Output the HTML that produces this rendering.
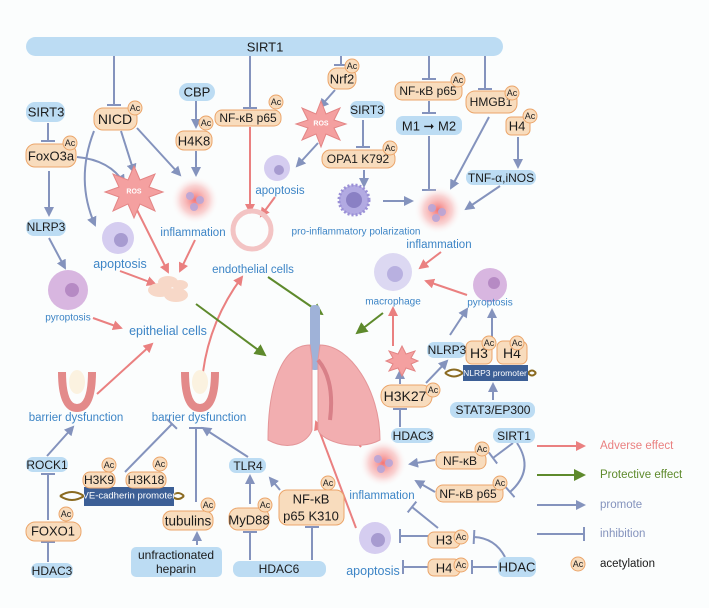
<!DOCTYPE html>
<html><head><meta charset="utf-8"><style>
html,body{margin:0;padding:0;background:#fbfdfd}
svg{display:block;font-family:"Liberation Sans",Arial,sans-serif}
.b{fill:#bcdcf3}
.o{fill:#f8dcbd;stroke:#eba56a;stroke-width:1}
.t{font-size:13px;fill:#1a1a1a;text-anchor:middle;dominant-baseline:central}
.l{font-size:11.5px;fill:#3d85c6;text-anchor:middle;dominant-baseline:central}
.pa{stroke:#8493bd;stroke-width:2;fill:none}
.ra{stroke:#ea8080;stroke-width:2;fill:none}
.ga{stroke:#5e8a2c;stroke-width:2;fill:none}
.ac{fill:#f8dcbd;stroke:#eba56a;stroke-width:1}
.act{font-size:9px;fill:#222;text-anchor:middle;dominant-baseline:central}
</style></head><body>
<svg width="709" height="608" viewBox="0 0 709 608" xmlns="http://www.w3.org/2000/svg">
<defs>
<marker id="pa" markerWidth="10" markerHeight="10" refX="8" refY="5" orient="auto" markerUnits="userSpaceOnUse"><path d="M0,0 L10,5 L0,10 z" fill="#8493bd"/></marker>
<marker id="ra" markerWidth="10" markerHeight="10" refX="8" refY="5" orient="auto" markerUnits="userSpaceOnUse"><path d="M0,0 L10,5 L0,10 z" fill="#ea8080"/></marker>
<marker id="ga" markerWidth="12" markerHeight="12" refX="10" refY="6" orient="auto" markerUnits="userSpaceOnUse"><path d="M0,0 L12,6 L0,12 z" fill="#5e8a2c"/></marker>
<marker id="tb" markerWidth="4" markerHeight="14" refX="2" refY="7" orient="auto" markerUnits="userSpaceOnUse"><path d="M2,0 L2,14" stroke="#8493bd" stroke-width="2"/></marker>
<radialGradient id="glow"><stop offset="0" stop-color="#f25c5c" stop-opacity="0.85"/><stop offset="0.6" stop-color="#f7a0a0" stop-opacity="0.45"/><stop offset="1" stop-color="#fff" stop-opacity="0"/></radialGradient>
</defs>

<!-- SIRT1 bar -->
<rect x="26" y="37" width="477" height="19" rx="9.5" class="b"/>
<text x="265" y="47" class="t">SIRT1</text>

<!-- connectors top -->
<line class="pa" x1="114" y1="56" x2="114" y2="105" marker-end="url(#tb)"/>
<line class="pa" x1="250" y1="56" x2="250" y2="108" marker-end="url(#tb)"/>
<line class="pa" x1="341" y1="56" x2="341" y2="65" marker-end="url(#tb)"/>
<line class="pa" x1="429" y1="56" x2="429" y2="79" marker-end="url(#tb)"/>
<line class="pa" x1="485" y1="56" x2="485" y2="89" marker-end="url(#tb)"/>
<line class="pa" x1="48" y1="123" x2="48" y2="141" marker-end="url(#tb)"/>
<line class="pa" x1="49" y1="171" x2="49" y2="215" marker-end="url(#pa)"/>
<path class="pa" d="M77,157 Q110,160 124,183" marker-end="url(#pa)"/>
<path class="pa" d="M94,131 Q75,180 95,225" marker-end="url(#pa)"/>
<line class="pa" x1="121" y1="131" x2="134" y2="172" marker-end="url(#pa)"/>
<line class="pa" x1="137" y1="128" x2="180" y2="175" marker-end="url(#pa)"/>
<line class="pa" x1="196" y1="101" x2="196" y2="127" marker-end="url(#pa)"/>
<line class="pa" x1="196" y1="151" x2="196" y2="175" marker-end="url(#pa)"/>
<line class="pa" x1="49" y1="238" x2="65" y2="268" marker-end="url(#pa)"/>
<line class="pa" x1="335" y1="90" x2="320" y2="107" marker-end="url(#pa)"/>
<line class="pa" x1="318" y1="143" x2="297" y2="166" marker-end="url(#pa)"/>
<line class="pa" x1="363" y1="120" x2="363" y2="147" marker-end="url(#tb)"/>
<line class="pa" x1="364" y1="170" x2="364" y2="186" marker-end="url(#pa)"/>
<line class="pa" x1="383" y1="201" x2="412" y2="201" marker-end="url(#pa)"/>
<line class="pa" x1="429" y1="101" x2="429" y2="113" marker-end="url(#tb)"/>
<line class="pa" x1="429" y1="136" x2="429" y2="190" marker-end="url(#tb)"/>
<line class="pa" x1="489" y1="117" x2="451" y2="188" marker-end="url(#pa)"/>
<line class="pa" x1="518" y1="137" x2="518" y2="167" marker-end="url(#pa)"/>
<line class="pa" x1="500" y1="186" x2="466" y2="209" marker-end="url(#pa)"/>

<!-- red arrows -->
<line class="ra" x1="137" y1="210" x2="168" y2="272" marker-end="url(#ra)"/>
<line class="ra" x1="195" y1="240" x2="180" y2="271" marker-end="url(#ra)"/>
<line class="ra" x1="120" y1="271" x2="155" y2="284" marker-end="url(#ra)"/>
<line class="ra" x1="250" y1="127" x2="250" y2="212" marker-end="url(#ra)"/>
<line class="ra" x1="275" y1="197" x2="261" y2="216" marker-end="url(#ra)"/>
<line class="ra" x1="93" y1="318" x2="121" y2="328" marker-end="url(#ra)"/>
<line class="ra" x1="97" y1="394" x2="152" y2="344" marker-end="url(#ra)"/>
<path class="ra" d="M203,372 Q210,320 242,277" marker-end="url(#ra)"/>
<line class="ra" x1="441" y1="252" x2="420" y2="268" marker-end="url(#ra)"/>
<line class="ra" x1="467" y1="295" x2="426" y2="281" marker-end="url(#ra)"/>
<line class="ra" x1="393" y1="346" x2="393" y2="308" marker-end="url(#ra)"/>
<line class="ra" x1="361" y1="447" x2="337" y2="418" marker-end="url(#ra)"/>
<line class="ra" x1="356" y1="528" x2="316" y2="422" marker-end="url(#ra)"/>

<!-- green -->
<line class="ga" x1="196" y1="304" x2="265" y2="355" marker-end="url(#ga)"/>
<line class="ga" x1="268" y1="277" x2="322" y2="314" marker-end="url(#ga)"/>
<line class="ga" x1="383" y1="313" x2="357" y2="333" marker-end="url(#ga)"/>

<!-- lower left connectors -->
<line class="pa" x1="47" y1="456" x2="73" y2="427" marker-end="url(#pa)"/>
<line class="pa" x1="48" y1="520" x2="48" y2="474" marker-end="url(#tb)"/>
<line class="pa" x1="48" y1="562" x2="48" y2="542" marker-end="url(#tb)"/>
<line class="pa" x1="125" y1="472" x2="172" y2="424" marker-end="url(#tb)"/>
<line class="pa" x1="196" y1="502" x2="196" y2="428" marker-end="url(#tb)"/>
<line class="pa" x1="197" y1="545" x2="197" y2="533" marker-end="url(#pa)"/>
<line class="pa" x1="248" y1="457" x2="203" y2="428" marker-end="url(#pa)"/>
<line class="pa" x1="250" y1="504" x2="250" y2="476" marker-end="url(#pa)"/>
<line class="pa" x1="280" y1="490" x2="270" y2="478" marker-end="url(#pa)"/>
<line class="pa" x1="250" y1="560" x2="250" y2="532" marker-end="url(#tb)"/>
<line class="pa" x1="312" y1="560" x2="312" y2="527" marker-end="url(#tb)"/>

<!-- lower right connectors -->
<line class="pa" x1="400" y1="384" x2="400" y2="371" marker-end="url(#pa)"/>
<line class="pa" x1="426" y1="383" x2="447" y2="361" marker-end="url(#pa)"/>
<line class="pa" x1="450" y1="335" x2="467" y2="309" marker-end="url(#pa)"/>
<line class="pa" x1="492" y1="337" x2="492" y2="310" marker-end="url(#pa)"/>
<line class="pa" x1="493" y1="400" x2="493" y2="384" marker-end="url(#pa)"/>
<line class="pa" x1="400" y1="427" x2="400" y2="409" marker-end="url(#tb)"/>
<line class="pa" x1="513" y1="443" x2="493" y2="458" marker-end="url(#tb)"/>
<path class="pa" d="M517,443 Q535,470 510,492" marker-end="url(#tb)"/>
<line class="pa" x1="435" y1="460" x2="410" y2="464" marker-end="url(#pa)"/>
<line class="pa" x1="435" y1="492" x2="416" y2="481" marker-end="url(#pa)"/>
<line class="pa" x1="438" y1="528" x2="412" y2="507" marker-end="url(#tb)"/>
<line class="pa" x1="428" y1="536" x2="400" y2="536" marker-end="url(#tb)"/>
<line class="pa" x1="428" y1="567" x2="403" y2="567" marker-end="url(#tb)"/>
<line class="pa" x1="497" y1="567" x2="472" y2="567" marker-end="url(#tb)"/>
<path class="pa" d="M505,557 Q495,538 474,537" marker-end="url(#tb)"/>

<!-- legend -->
<line class="ra" x1="537" y1="446" x2="584" y2="446" marker-end="url(#ra)"/>
<text x="600" y="446" style="font-size:11.5px;fill:#ea8080;dominant-baseline:central">Adverse effect</text>
<line class="ga" x1="537" y1="475" x2="584" y2="475" marker-end="url(#ga)"/>
<text x="600" y="475" style="font-size:11.5px;fill:#5e8a2c;dominant-baseline:central">Protective effect</text>
<line class="pa" x1="537" y1="505" x2="584" y2="505" marker-end="url(#pa)"/>
<text x="600" y="505" style="font-size:11.5px;fill:#8493bd;dominant-baseline:central">promote</text>
<line class="pa" x1="537" y1="534" x2="584" y2="534" marker-end="url(#tb)"/>
<text x="600" y="534" style="font-size:11.5px;fill:#8493bd;dominant-baseline:central">inhibition</text>
<circle cx="578" cy="564" r="7" class="ac"/><text x="578" y="564" class="act">Ac</text>
<text x="600" y="564" style="font-size:11.5px;fill:#1a1a1a;dominant-baseline:central">acetylation</text>

<!-- glows & cells -->
<circle cx="195" cy="200" r="24" fill="url(#glow)"/>
<circle cx="438" cy="210" r="24" fill="url(#glow)"/>
<circle cx="383" cy="463" r="24" fill="url(#glow)"/>
<g fill="#b9a6d8" opacity="0.9"><circle cx="190" cy="196" r="4"/><circle cx="200" cy="200" r="4"/><circle cx="194" cy="207" r="4"/><circle cx="432" cy="208" r="4"/><circle cx="442" cy="212" r="4"/><circle cx="436" cy="218" r="4"/><circle cx="378" cy="459" r="4"/><circle cx="389" cy="463" r="4"/><circle cx="381" cy="469" r="4"/></g>
<circle cx="118" cy="238" r="16" fill="#d5cdf0"/><circle cx="121" cy="240" r="7" fill="#a79bd0"/>
<circle cx="277" cy="168" r="13" fill="#d5cdf0"/><circle cx="279" cy="170" r="5" fill="#a79bd0"/>
<circle cx="375" cy="538" r="16" fill="#d5cdf0"/><circle cx="378" cy="540" r="7" fill="#a79bd0"/>
<circle cx="354" cy="200" r="15" fill="#b2aae2" stroke="#9a90d6" stroke-width="3" stroke-dasharray="2 2"/><circle cx="354" cy="200" r="8" fill="#8a80c4"/>
<circle cx="393" cy="272" r="19" fill="#dcd8f2"/><circle cx="395" cy="274" r="8" fill="#b8b0e0"/>
<circle cx="490" cy="285" r="17" fill="#d8b6e0"/><circle cx="494" cy="283" r="6" fill="#b68ac4"/>
<circle cx="68" cy="290" r="20" fill="#d8b6e0"/><circle cx="72" cy="290" r="7" fill="#b68ac4"/>
<g fill="#f7d8c8"><ellipse cx="160" cy="290" rx="12" ry="7"/><ellipse cx="176" cy="295" rx="12" ry="7"/><ellipse cx="168" cy="282" rx="10" ry="6"/><ellipse cx="180" cy="285" rx="8" ry="5"/></g>
<circle cx="252" cy="230" r="19" fill="none" stroke="#f3c4c4" stroke-width="5"/>
<!-- barrier icons -->
<path d="M62,372 Q62,408 77,408 Q92,408 92,372" fill="none" stroke="#e38a8a" stroke-width="8"/>
<path d="M185,372 Q185,408 200,408 Q215,408 215,372" fill="none" stroke="#e38a8a" stroke-width="8"/>
<ellipse cx="77" cy="382" rx="8" ry="12" fill="#fbf2e0"/><ellipse cx="200" cy="382" rx="8" ry="12" fill="#fbf2e0"/>
<!-- ROS stars -->
<polygon points="134,166 140,180 155,174 149,187 163,192 149,197 155,211 140,204 134,218 128,204 113,211 119,197 105,192 119,187 113,174 128,180" fill="#f4a0a0" stroke="#e38585"/>
<text x="134" y="192" style="font-size:7px;fill:#fff;text-anchor:middle;dominant-baseline:central;font-weight:bold">ROS</text>
<polygon points="321,101 326,114 340,108 334,120 346,124 334,128 340,140 326,134 321,147 316,134 302,140 308,128 296,124 308,120 302,108 316,114" fill="#f4a0a0" stroke="#e38585"/>
<text x="321" y="124" style="font-size:7px;fill:#fff;text-anchor:middle;dominant-baseline:central;font-weight:bold">ROS</text>
<polygon points="402,346 406,354 415,351 411,358 418,361 411,364 415,371 406,368 402,376 398,368 389,371 393,364 386,361 393,358 389,351 398,354" fill="#f4a0a0" stroke="#e38585"/>
<!-- lungs -->
<rect x="310" y="305" width="10" height="65" rx="4" fill="#9fb2d8"/>
<path d="M310,345 C280,345 268,390 268,440 C290,452 308,442 312,430 L312,360 Z" fill="#f2aeb0" stroke="#e49598"/>
<path d="M320,345 C350,345 380,390 380,440 C358,452 322,442 318,430 L318,360 Z" fill="#f2aeb0" stroke="#e49598"/>
<path d="M318,360 Q335,380 330,420" fill="none" stroke="#d88088" stroke-width="4"/>

<!-- labels -->
<text x="193" y="233" class="l">inflammation</text>
<text x="120" y="264" class="l" style="font-size:12.5px">apoptosis</text>
<text x="280" y="191" class="l">apoptosis</text>
<text x="253" y="270" class="l">endothelial cells</text>
<text x="356" y="232" class="l" style="font-size:10px">pro-inflammatory polarization</text>
<text x="439" y="245" class="l">inflammation</text>
<text x="393" y="302" class="l" style="font-size:10px">macrophage</text>
<text x="490" y="303" class="l" style="font-size:10px">pyroptosis</text>
<text x="68" y="318" class="l" style="font-size:10px">pyroptosis</text>
<text x="168" y="331" class="l" style="font-size:12.5px">epithelial cells</text>
<text x="76" y="418" class="l">barrier dysfunction</text>
<text x="199" y="418" class="l">barrier dysfunction</text>
<text x="382" y="496" class="l">inflammation</text>
<text x="373" y="571" class="l" style="font-size:12.5px">apoptosis</text>

<!-- DNA -->
<path d="M60,496 Q72,488 84,496 T108,496 M60,496 Q72,504 84,496 T108,496" stroke="#8a6a20" stroke-width="2" fill="none"/>
<path d="M172,496 Q178,490 184,496 M172,496 Q178,502 184,496" stroke="#8a6a20" stroke-width="2" fill="none"/>
<rect x="84" y="487" width="90" height="19" fill="#3c5f96"/>
<text x="129" y="496" style="font-size:9.5px;fill:#fff;text-anchor:middle;dominant-baseline:central">VE-cadherin promoter</text>
<path d="M445,373 Q454,366 463,373 M445,373 Q454,380 463,373 M528,373 Q532,368 536,373 M528,373 Q532,378 536,373" stroke="#8a6a20" stroke-width="2" fill="none"/>
<rect x="463" y="365" width="65" height="16" fill="#3c5f96"/>
<text x="495" y="373" style="font-size:8.5px;fill:#fff;text-anchor:middle;dominant-baseline:central">NLRP3 promoter</text>

<!-- blue boxes -->
<rect x="26" y="102" width="39" height="20" rx="9" class="b"/><text x="46" y="112" class="t">SIRT3</text>
<rect x="179" y="83" width="36" height="18" rx="9" class="b"/><text x="197" y="92" class="t">CBP</text>
<rect x="350" y="101" width="35" height="17" rx="7" class="b"/><text x="367" y="110" class="t" style="font-size:12px">SIRT3</text>
<rect x="396" y="116" width="66" height="19" rx="7" class="b"/><text x="429" y="126" class="t">M1 ➞ M2</text>
<rect x="466" y="170" width="70" height="15" rx="7" class="b"/><text x="501" y="178" class="t" style="font-size:12px">TNF-α,iNOS</text>
<rect x="26" y="219" width="40" height="17" rx="8" class="b"/><text x="46" y="227" class="t" style="font-size:12px">NLRP3</text>
<rect x="26" y="457" width="42" height="15" rx="7" class="b"/><text x="47" y="465" class="t" style="font-size:12px">ROCK1</text>
<rect x="31" y="563" width="42" height="15" rx="7" class="b"/><text x="52" y="571" class="t" style="font-size:12px">HDAC3</text>
<rect x="131" y="547" width="91" height="30" rx="5" class="b"/><text x="176" y="555" class="t" style="font-size:12px">unfractionated</text><text x="176" y="569" class="t" style="font-size:12px">heparin</text>
<rect x="229" y="458" width="37" height="15" rx="7" class="b"/><text x="248" y="466" class="t" style="font-size:12px">TLR4</text>
<rect x="233" y="561" width="93" height="16" rx="7" class="b"/><text x="279" y="569" class="t" style="font-size:12px">HDAC6</text>
<rect x="427" y="342" width="39" height="16" rx="7" class="b"/><text x="447" y="350" class="t" style="font-size:12px">NLRP3</text>
<rect x="450" y="402" width="85" height="16" rx="7" class="b"/><text x="493" y="410" class="t" style="font-size:12px">STAT3/EP300</text>
<rect x="391" y="428" width="43" height="15" rx="7" class="b"/><text x="413" y="436" class="t" style="font-size:12px">HDAC3</text>
<rect x="493" y="428" width="42" height="15" rx="7" class="b"/><text x="514" y="436" class="t" style="font-size:12px">SIRT1</text>
<rect x="498" y="557" width="38" height="20" rx="7" class="b"/><text x="517" y="567" class="t">HDAC</text>

<!-- orange boxes -->
<rect x="26" y="144" width="50" height="23" rx="9" class="o"/><text x="51" y="156" class="t">FoxO3a</text>
<rect x="94" y="108" width="43" height="22" rx="9" class="o"/><text x="115" y="119" class="t" style="font-size:14px">NICD</text>
<rect x="176" y="131" width="36" height="19" rx="8" class="o"/><text x="194" y="141" class="t">H4K8</text>
<rect x="215" y="110" width="66" height="16" rx="7" class="o"/><text x="248" y="118" class="t" style="font-size:12px">NF-κB p65</text>
<rect x="328" y="68" width="28" height="21" rx="9" class="o"/><text x="342" y="79" class="t">Nrf2</text>
<rect x="322" y="150" width="73" height="18" rx="8" class="o"/><text x="358" y="159" class="t" style="font-size:12px">OPA1 K792</text>
<rect x="395" y="82" width="67" height="18" rx="7" class="o"/><text x="428" y="91" class="t" style="font-size:12px">NF-κB p65</text>
<rect x="466" y="91" width="51" height="22" rx="9" class="o"/><text x="491" y="102" class="t" style="font-size:12px">HMGB1</text>
<rect x="506" y="117" width="24" height="18" rx="5" class="o"/><text x="517" y="126" class="t">H4</text>
<rect x="26" y="522" width="55" height="19" rx="9" class="o"/><text x="53" y="531" class="t">FOXO1</text>
<rect x="83" y="472" width="32" height="16" rx="7" class="o"/><text x="99" y="480" class="t" style="font-size:12px">H3K9</text>
<rect x="126" y="472" width="40" height="16" rx="7" class="o"/><text x="146" y="480" class="t" style="font-size:12px">H3K18</text>
<rect x="163" y="511" width="50" height="19" rx="8" class="o"/><text x="188" y="521" class="t" style="font-size:13.5px">tubulins</text>
<rect x="229" y="508" width="40" height="22" rx="9" class="o"/><text x="249" y="520" class="t">MyD88</text>
<rect x="279" y="490" width="65" height="35" rx="8" class="o"/><text x="311" y="499" class="t">NF-κB</text><text x="311" y="516" class="t">p65 K310</text>
<rect x="381" y="385" width="51" height="22" rx="10" class="o"/><text x="405" y="396" class="t" style="font-size:14px">H3K27</text>
<rect x="466" y="341" width="26" height="23" rx="6" class="o"/><text x="479" y="353" class="t" style="font-size:14px">H3</text>
<rect x="497" y="341" width="30" height="23" rx="6" class="o"/><text x="512" y="353" class="t" style="font-size:14px">H4</text>
<rect x="436" y="452" width="50" height="17" rx="7" class="o"/><text x="460" y="461" class="t" style="font-size:12px">NF-κB</text>
<rect x="436" y="485" width="67" height="17" rx="7" class="o"/><text x="468" y="494" class="t" style="font-size:12px">NF-κB p65</text>
<rect x="428" y="532" width="32" height="16" rx="6" class="o"/><text x="444" y="540" class="t">H3</text>
<rect x="428" y="559" width="32" height="17" rx="6" class="o"/><text x="444" y="568" class="t">H4</text>

<!-- Ac badges -->
<g>
<circle cx="70" cy="143" r="7" class="ac"/><text x="70" y="143" class="act">Ac</text>
<circle cx="135" cy="108" r="7" class="ac"/><text x="135" y="108" class="act">Ac</text>
<circle cx="206" cy="123" r="7" class="ac"/><text x="206" y="123" class="act">Ac</text>
<circle cx="276" cy="102" r="7" class="ac"/><text x="276" y="102" class="act">Ac</text>
<circle cx="352" cy="66" r="7" class="ac"/><text x="352" y="66" class="act">Ac</text>
<circle cx="390" cy="148" r="7" class="ac"/><text x="390" y="148" class="act">Ac</text>
<circle cx="458" cy="80" r="7" class="ac"/><text x="458" y="80" class="act">Ac</text>
<circle cx="512" cy="93" r="7" class="ac"/><text x="512" y="93" class="act">Ac</text>
<circle cx="530" cy="116" r="7" class="ac"/><text x="530" y="116" class="act">Ac</text>
<circle cx="66" cy="514" r="7" class="ac"/><text x="66" y="514" class="act">Ac</text>
<circle cx="109" cy="465" r="7" class="ac"/><text x="109" y="465" class="act">Ac</text>
<circle cx="160" cy="464" r="7" class="ac"/><text x="160" y="464" class="act">Ac</text>
<circle cx="208" cy="505" r="7" class="ac"/><text x="208" y="505" class="act">Ac</text>
<circle cx="265" cy="505" r="7" class="ac"/><text x="265" y="505" class="act">Ac</text>
<circle cx="328" cy="483" r="7" class="ac"/><text x="328" y="483" class="act">Ac</text>
<circle cx="433" cy="390" r="7" class="ac"/><text x="433" y="390" class="act">Ac</text>
<circle cx="489" cy="343" r="7" class="ac"/><text x="489" y="343" class="act">Ac</text>
<circle cx="517" cy="343" r="7" class="ac"/><text x="517" y="343" class="act">Ac</text>
<circle cx="482" cy="449" r="7" class="ac"/><text x="482" y="449" class="act">Ac</text>
<circle cx="500" cy="483" r="7" class="ac"/><text x="500" y="483" class="act">Ac</text>
<circle cx="461" cy="537" r="7" class="ac"/><text x="461" y="537" class="act">Ac</text>
<circle cx="461" cy="565" r="7" class="ac"/><text x="461" y="565" class="act">Ac</text>
</g>
</svg>
</body></html>
